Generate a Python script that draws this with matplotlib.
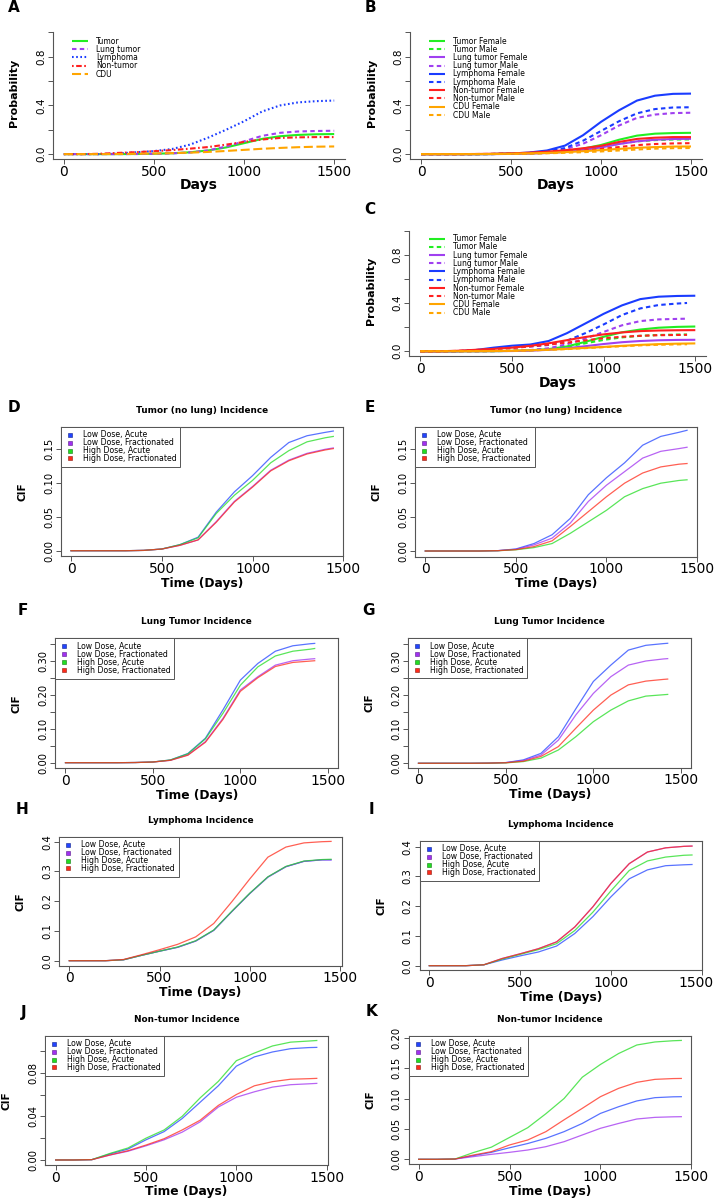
import matplotlib
matplotlib.use("Agg")
import matplotlib.pyplot as plt
import matplotlib.transforms as mtransforms
from matplotlib.lines import Line2D

plt.rcParams['font.family'] = ['DejaVu Sans']
plt.rcParams['lines.scale_dashes'] = False

W, H = 714, 1199

# ---------------- data ----------------
days_abc = [0, 100, 200, 300, 400, 500, 600, 700, 800, 900, 1000, 1100, 1200, 1300, 1400, 1500]
days_c_male = [0, 100, 200, 300, 400, 500, 600, 700, 800, 900, 1000, 1100, 1200, 1300, 1400, 1455]
days_de = [0, 100, 200, 300, 400, 500, 600, 700, 800, 900, 1000, 1100, 1200, 1300, 1400, 1445]
days_fg = [0, 100, 200, 300, 400, 500, 600, 700, 800, 900, 1000, 1100, 1200, 1300, 1400, 1425]
days_h = [0, 100, 200, 300, 400, 500, 600, 700, 800, 900, 1000, 1100, 1200, 1300, 1400, 1450]
days_ijk = [0, 100, 200, 300, 400, 500, 600, 700, 800, 900, 1000, 1100, 1200, 1300, 1400, 1445]

# Panel A
a_tumor = [0, 0, 0, 0, 0.001, 0.003, 0.007, 0.015, 0.03, 0.055, 0.09, 0.125, 0.147, 0.158, 0.163, 0.165]
a_lung = [0, 0, 0, 0, 0.001, 0.003, 0.006, 0.014, 0.03, 0.062, 0.105, 0.15, 0.175, 0.186, 0.19, 0.192]
a_lymph = [0, 0, 0, 0.005, 0.015, 0.025, 0.042, 0.078, 0.135, 0.2, 0.27, 0.35, 0.4, 0.425, 0.435, 0.44]
a_nontumor = [0, 0, 0.003, 0.01, 0.016, 0.024, 0.033, 0.045, 0.058, 0.078, 0.1, 0.12, 0.133, 0.138, 0.14, 0.14]
a_cdu = [0, 0, 0, 0.001, 0.003, 0.005, 0.008, 0.012, 0.018, 0.026, 0.035, 0.044, 0.051, 0.057, 0.061, 0.063]

# Panel B
b_tumor_f = [0, 0, 0, 0, 0.001, 0.003, 0.007, 0.014, 0.025, 0.045, 0.075, 0.118, 0.152, 0.168, 0.173, 0.175]
b_tumor_m = [0, 0, 0, 0, 0.001, 0.002, 0.005, 0.01, 0.02, 0.035, 0.058, 0.085, 0.105, 0.115, 0.12, 0.121]
b_lung_f = [0, 0, 0, 0, 0, 0.002, 0.004, 0.009, 0.018, 0.033, 0.055, 0.083, 0.105, 0.118, 0.124, 0.126]
b_lung_m = [0, 0, 0, 0, 0.001, 0.003, 0.007, 0.016, 0.04, 0.085, 0.155, 0.235, 0.298, 0.325, 0.337, 0.34]
b_lymph_f = [0, 0, 0, 0, 0.001, 0.005, 0.013, 0.03, 0.07, 0.155, 0.265, 0.36, 0.44, 0.48, 0.495, 0.497]
b_lymph_m = [0, 0, 0, 0, 0.001, 0.004, 0.01, 0.022, 0.05, 0.11, 0.19, 0.27, 0.335, 0.37, 0.383, 0.385]
b_non_f = [0, 0, 0, 0.001, 0.003, 0.006, 0.012, 0.02, 0.032, 0.048, 0.068, 0.1, 0.125, 0.135, 0.14, 0.14]
b_non_m = [0, 0, 0, 0.001, 0.002, 0.004, 0.008, 0.013, 0.02, 0.03, 0.042, 0.058, 0.074, 0.083, 0.088, 0.09]
b_cdu_f = [0, 0, 0, 0, 0.001, 0.003, 0.006, 0.01, 0.016, 0.024, 0.033, 0.043, 0.052, 0.058, 0.062, 0.063]
b_cdu_m = [0, 0, 0, 0, 0.001, 0.002, 0.004, 0.007, 0.011, 0.016, 0.022, 0.03, 0.038, 0.045, 0.049, 0.05]

# Panel C
c_tumor_f = [0, 0, 0, 0, 0.001, 0.003, 0.008, 0.018, 0.04, 0.078, 0.12, 0.157, 0.18, 0.195, 0.202, 0.205]
c_tumor_m = [0, 0, 0, 0, 0.001, 0.003, 0.008, 0.018, 0.038, 0.066, 0.094, 0.115, 0.128, 0.135, 0.138, 0.139]
c_lung_f = [0, 0, 0, 0, 0.001, 0.002, 0.005, 0.012, 0.025, 0.042, 0.06, 0.075, 0.085, 0.091, 0.094, 0.095]
c_lung_m = [0, 0, 0, 0, 0.002, 0.005, 0.01, 0.025, 0.058, 0.105, 0.16, 0.215, 0.25, 0.264, 0.268, 0.27]
c_lymph_f = [0, 0, 0, 0.01, 0.03, 0.046, 0.056, 0.085, 0.15, 0.23, 0.31, 0.38, 0.432, 0.452, 0.458, 0.46]
c_lymph_m = [0, 0, 0, 0.008, 0.02, 0.03, 0.04, 0.052, 0.088, 0.15, 0.222, 0.3, 0.355, 0.383, 0.395, 0.4]
c_non_f = [0, 0, 0.004, 0.012, 0.02, 0.03, 0.045, 0.066, 0.092, 0.118, 0.14, 0.156, 0.167, 0.172, 0.174, 0.175]
c_non_m = [0, 0, 0.003, 0.01, 0.018, 0.027, 0.04, 0.055, 0.072, 0.09, 0.108, 0.12, 0.128, 0.133, 0.135, 0.136]
c_cdu_f = [0, 0, 0, 0.001, 0.002, 0.004, 0.008, 0.013, 0.02, 0.028, 0.036, 0.045, 0.053, 0.059, 0.063, 0.065]
c_cdu_m = [0, 0, 0, 0.001, 0.002, 0.004, 0.007, 0.012, 0.018, 0.026, 0.034, 0.042, 0.049, 0.054, 0.057, 0.058]

# Panels D-K: Low Dose Acute, Low Dose Fractionated, High Dose Acute, High Dose Fractionated
d_low_acute = [0, 0, 0, 0, 0.0005, 0.0025, 0.009, 0.02, 0.057, 0.087, 0.111, 0.138, 0.16, 0.17, 0.175, 0.177]
d_low_frac = [0, 0, 0, 0, 0.0005, 0.0025, 0.008, 0.016, 0.043, 0.073, 0.095, 0.119, 0.134, 0.144, 0.15, 0.152]
d_high_acute = [0, 0, 0, 0, 0.0005, 0.0025, 0.009, 0.019, 0.055, 0.082, 0.104, 0.13, 0.148, 0.161, 0.167, 0.169]
d_high_frac = [0, 0, 0, 0, 0.0005, 0.0025, 0.008, 0.016, 0.042, 0.072, 0.094, 0.118, 0.133, 0.143, 0.149, 0.151]

e_low_acute = [0, 0, 0, 0, 0.0005, 0.003, 0.011, 0.024, 0.048, 0.083, 0.108, 0.13, 0.156, 0.169, 0.175, 0.178]
e_low_frac = [0, 0, 0, 0, 0.0005, 0.0025, 0.009, 0.019, 0.041, 0.073, 0.097, 0.117, 0.137, 0.147, 0.151, 0.153]
e_high_acute = [0, 0, 0, 0, 0.0004, 0.0018, 0.005, 0.011, 0.026, 0.043, 0.06, 0.08, 0.092, 0.1, 0.104, 0.105]
e_high_frac = [0, 0, 0, 0, 0.0005, 0.002, 0.0065, 0.015, 0.036, 0.058, 0.08, 0.1, 0.115, 0.124, 0.128, 0.129]

f_low_acute = [0, 0, 0, 0, 0.0005, 0.002, 0.008, 0.027, 0.072, 0.155, 0.243, 0.292, 0.328, 0.344, 0.35, 0.351]
f_low_frac = [0, 0, 0, 0, 0.0005, 0.002, 0.007, 0.023, 0.062, 0.13, 0.214, 0.253, 0.287, 0.3, 0.305, 0.306]
f_high_acute = [0, 0, 0, 0, 0.0005, 0.002, 0.008, 0.026, 0.07, 0.145, 0.228, 0.282, 0.314, 0.328, 0.334, 0.336]
f_high_frac = [0, 0, 0, 0, 0.0005, 0.002, 0.007, 0.022, 0.06, 0.127, 0.21, 0.25, 0.283, 0.295, 0.299, 0.3]

g_low_acute = [0, 0, 0, 0, 0.0005, 0.002, 0.01, 0.029, 0.078, 0.16, 0.24, 0.288, 0.332, 0.346, 0.351, 0.352]
g_low_frac = [0, 0, 0, 0, 0.0005, 0.002, 0.008, 0.024, 0.068, 0.142, 0.205, 0.254, 0.288, 0.3, 0.306, 0.307]
g_high_acute = [0, 0, 0, 0, 0.0003, 0.0012, 0.005, 0.015, 0.039, 0.078, 0.122, 0.156, 0.183, 0.197, 0.201, 0.202]
g_high_frac = [0, 0, 0, 0, 0.0004, 0.0015, 0.006, 0.02, 0.049, 0.103, 0.156, 0.2, 0.23, 0.241, 0.246, 0.247]

h_low_acute = [0, 0, 0, 0.003, 0.018, 0.032, 0.045, 0.066, 0.102, 0.165, 0.226, 0.281, 0.316, 0.334, 0.339, 0.339]
h_low_frac = [0, 0, 0, 0.003, 0.018, 0.032, 0.045, 0.066, 0.102, 0.165, 0.226, 0.281, 0.316, 0.334, 0.339, 0.339]
h_high_acute = [0, 0, 0, 0.003, 0.018, 0.032, 0.046, 0.067, 0.103, 0.166, 0.227, 0.282, 0.317, 0.335, 0.34, 0.341]
h_high_frac = [0, 0, 0, 0.004, 0.02, 0.037, 0.055, 0.08, 0.125, 0.198, 0.275, 0.348, 0.382, 0.396, 0.4, 0.401]

i_low_acute = [0, 0, 0, 0.003, 0.019, 0.033, 0.046, 0.066, 0.108, 0.165, 0.232, 0.292, 0.322, 0.336, 0.339, 0.34]
i_low_frac = [0, 0, 0, 0.003, 0.024, 0.04, 0.057, 0.08, 0.13, 0.198, 0.277, 0.343, 0.382, 0.396, 0.401, 0.402]
i_high_acute = [0, 0, 0, 0.003, 0.022, 0.038, 0.054, 0.074, 0.118, 0.18, 0.252, 0.32, 0.352, 0.365, 0.371, 0.372]
i_high_frac = [0, 0, 0, 0.003, 0.024, 0.04, 0.057, 0.08, 0.13, 0.198, 0.277, 0.343, 0.382, 0.396, 0.401, 0.402]

j_low_acute = [0, 0, 0.0003, 0.0055, 0.01, 0.0185, 0.026, 0.038, 0.053, 0.068, 0.086, 0.0945, 0.099, 0.102, 0.103, 0.1032]
j_low_frac = [0, 0, 0.0003, 0.0045, 0.008, 0.013, 0.0185, 0.0255, 0.035, 0.0485, 0.0575, 0.0625, 0.0668, 0.069, 0.0698, 0.0702]
j_high_acute = [0, 0, 0.0003, 0.006, 0.011, 0.02, 0.0275, 0.04, 0.057, 0.072, 0.091, 0.098, 0.1045, 0.108, 0.109, 0.1095]
j_high_frac = [0, 0, 0.0003, 0.0046, 0.0085, 0.0137, 0.0195, 0.0275, 0.0365, 0.05, 0.06, 0.068, 0.0718, 0.074, 0.0745, 0.0748]

k_low_acute = [0, 0, 0.0005, 0.006, 0.0115, 0.019, 0.026, 0.0345, 0.0455, 0.059, 0.0755, 0.0865, 0.096, 0.1014, 0.1028, 0.103]
k_low_frac = [0, 0, 0.0005, 0.0044, 0.0082, 0.0115, 0.0153, 0.0208, 0.029, 0.04, 0.051, 0.059, 0.0663, 0.069, 0.0699, 0.0701]
k_high_acute = [0, 0, 0.0005, 0.011, 0.02, 0.036, 0.052, 0.075, 0.1, 0.135, 0.156, 0.174, 0.188, 0.193, 0.195, 0.1955]
k_high_frac = [0, 0, 0.0005, 0.007, 0.0126, 0.0236, 0.0318, 0.0455, 0.065, 0.0838, 0.103, 0.1167, 0.1266, 0.1315, 0.1328, 0.133]

group_labels = ["Low Dose, Acute", "Low Dose, Fractionated", "High Dose, Acute", "High Dose, Fractionated"]
abc_labels_a = ["Tumor", "Lung tumor", "Lymphoma", "Non-tumor", "CDU"]
abc_labels_sex = ["Tumor Female", "Tumor Male", "Lung tumor Female", "Lung tumor Male",
                  "Lymphoma Female", "Lymphoma Male", "Non-tumor Female", "Non-tumor Male",
                  "CDU Female", "CDU Male"]

# ---------------- styles ----------------
GREEN = "#22EE22"
PURPLE = "#A040F0"
BLUE = "#1A3CFF"
RED = "#FF2020"
ORANGE = "#FFA500"
cif_colors = ["#2244FF", "#A030F0", "#22DD22", "#FF2A1A"]
cif_edges = ["#10208A", "#5A1A8A", "#127A12", "#8A1A10"]
GRAYAX = "#555555"

fig = plt.figure(figsize=(W / 100, H / 100), dpi=100)


def px_axes(l, t, r, b):
    return fig.add_axes([l / W, 1 - b / H, (r - l) / W, (b - t) / H])


def ftext(x, y, s, **kw):
    kw.setdefault("ha", "center")
    kw.setdefault("va", "center")
    fig.text(x / W, 1 - y / H, s, **kw)


def prob_axes(l, t, r, b):
    ax = px_axes(l, t, r, b)
    ax.set_xlim(-60, 1560)
    ax.set_ylim(-0.04, 1.04)
    for s in ["top", "right"]:
        ax.spines[s].set_visible(False)
    for s in ["left", "bottom"]:
        ax.spines[s].set_color(GRAYAX)
        ax.spines[s].set_linewidth(0.8)
    ax.spines["left"].set_bounds(-0.04, 1.0)
    ax.set_xticks([0, 500, 1000, 1500])
    ax.set_yticks([0, 0.2, 0.4, 0.6, 0.8, 1.0])
    ax.set_yticklabels(["0.0", "", "0.4", "", "0.8", ""], rotation=90, va="center")
    ax.tick_params(axis="both", direction="out", length=3.6, width=0.7, color=GRAYAX)
    ax.tick_params(axis="x", labelsize=10, pad=0.5)
    ax.tick_params(axis="y", labelsize=7.5, pad=1.5)
    return ax


LS_SOLID = (0, ())
LS_DASH = (0, (3.2, 2.4))
LS_DOT = (0, (1.2, 1.8))
LS_DASHDOT = (0, (1.2, 1.8, 4.0, 1.8))
LS_LONG = (0, (6.5, 2.6))

# ---------------- Panel A ----------------
axA = prob_axes(53, 27.5, 345, 159)
a_series = [a_tumor, a_lung, a_lymph, a_nontumor, a_cdu]
a_styles = [(GREEN, LS_SOLID), (PURPLE, LS_DASH), (BLUE, LS_DOT), (RED, LS_DASHDOT), (ORANGE, LS_LONG)]
for vals, (c, ls), lab in zip(a_series, a_styles, abc_labels_a):
    axA.plot(days_abc, vals, color=c, linestyle=ls, lw=1.5, label=lab)
axA.legend(loc="upper left", bbox_to_anchor=(72 / W, 1 - 36.5 / H), bbox_transform=fig.transFigure,
           frameon=False, fontsize=5.5, borderpad=0, borderaxespad=0, labelspacing=-0.09,
           handlelength=2.1, handletextpad=1.05)

# ---------------- Panel B ----------------
axB = prob_axes(410.2, 27.5, 701.8, 159)
b_series = [b_tumor_f, b_tumor_m, b_lung_f, b_lung_m, b_lymph_f, b_lymph_m, b_non_f, b_non_m, b_cdu_f, b_cdu_m]
sex_colors = [GREEN, GREEN, PURPLE, PURPLE, BLUE, BLUE, RED, RED, ORANGE, ORANGE]
sex_ls = [LS_SOLID, LS_DASH] * 5
for vals, c, ls, lab in zip(b_series, sex_colors, sex_ls, abc_labels_sex):
    axB.plot(days_abc, vals, color=c, linestyle=ls, lw=1.5, label=lab)
axB.legend(loc="upper left", bbox_to_anchor=(428.7 / W, 1 - 36.5 / H), bbox_transform=fig.transFigure,
           frameon=False, fontsize=5.5, borderpad=0, borderaxespad=0, labelspacing=-0.1,
           handlelength=2.1, handletextpad=1.05)

# ---------------- Panel C ----------------
axC = prob_axes(409.3, 225.7, 706.3, 356.1)
c_series = [c_tumor_f, c_tumor_m, c_lung_f, c_lung_m, c_lymph_f, c_lymph_m, c_non_f, c_non_m, c_cdu_f, c_cdu_m]
for i, (vals, c, ls, lab) in enumerate(zip(c_series, sex_colors, sex_ls, abc_labels_sex)):
    dd = days_abc if i % 2 == 0 else days_c_male
    axC.plot(dd, vals, color=c, linestyle=ls, lw=1.5, label=lab)
axC.legend(loc="upper left", bbox_to_anchor=(428.7 / W, 1 - 234.2 / H), bbox_transform=fig.transFigure,
           frameon=False, fontsize=5.5, borderpad=0, borderaxespad=0, labelspacing=-0.1,
           handlelength=2.1, handletextpad=1.05)

for ax_, xc, yc, xl, yl in [(axA, 199, 93.3, 14.5, 185), (axB, 556, 93.3, 371.5, 185),
                            (axC, 558, 290.9, 371, 383)]:
    ftext(xc, yl, "Days", fontsize=10, fontweight="bold")
    ftext(xl, yc, "Probability", fontsize=8, fontweight="bold", rotation=90)

ftext(13.5, 8, "A", fontsize=11, fontweight="bold")
ftext(370, 8, "B", fontsize=11, fontweight="bold")
ftext(370, 210, "C", fontsize=11, fontweight="bold")


# ---------------- Panels D-K ----------------
def cif_panel(rect, xlim, ylim, yticks, ylabels, days, series, title, letter, letter_xy,
              shift_last_xlabel=0):
    l, t, r, b = rect
    ax = px_axes(l, t, r, b)
    for vals, c in zip(series, cif_colors):
        ax.plot(days, vals, color=c, lw=0.9, alpha=0.75)
    ax.set_xlim(*xlim)
    ax.set_ylim(*ylim)
    for s in ax.spines.values():
        s.set_color(GRAYAX)
        s.set_linewidth(0.8)
    ax.set_xticks([0, 500, 1000, 1500])
    ax.set_yticks(yticks)
    ax.set_yticklabels(ylabels, rotation=90, va="center")
    ax.tick_params(axis="both", direction="out", length=3.6, width=0.7, color=GRAYAX)
    ax.tick_params(axis="x", labelsize=10, pad=0.5)
    ax.tick_params(axis="y", labelsize=7.2, pad=1.5)
    if shift_last_xlabel:
        lab = ax.xaxis.get_major_ticks()[-1].label1
        lab.set_transform(lab.get_transform() +
                          mtransforms.ScaledTranslation(shift_last_xlabel / 100, 0, fig.dpi_scale_trans))
    handles = [Line2D([], [], marker="s", linestyle="none", markersize=3.2,
                      markerfacecolor=c, markeredgecolor=e, markeredgewidth=0.4)
               for c, e in zip(cif_colors, cif_edges)]
    leg = ax.legend(handles, group_labels, loc="upper left", bbox_to_anchor=(0, 1),
                    borderaxespad=0, fontsize=5.6, borderpad=0.48, labelspacing=-0.14,
                    handlelength=1.36, handletextpad=0.99, fancybox=False, framealpha=1)
    leg.get_frame().set_edgecolor(GRAYAX)
    leg.get_frame().set_linewidth(0.7)
    xc = (l + r) / 2
    yc = (t + b) / 2
    ftext(xc, t - 16.6, title, fontsize=6.4, fontweight="bold")
    ftext(xc, b + 27, "Time (Days)", fontsize=8.8, fontweight="bold")
    ftext(l - 38.5, yc, "CIF", fontsize=7.5, fontweight="bold", rotation=90)
    ftext(letter_xy[0], letter_xy[1], letter, fontsize=11, fontweight="bold")
    return ax


t5 = [0, 0.05, 0.10, 0.15]
cif_panel((61, 426.7, 343.3, 556), (-55.1, 1500), (-0.0078, 0.1834), t5,
          ["0.00", "0.05", "0.10", "0.15"], days_de,
          [d_low_acute, d_low_frac, d_high_acute, d_high_frac],
          "Tumor (no lung) Incidence", "D", (14, 407.5))
cif_panel((415.3, 426.7, 697, 556.7), (-55.2, 1500), (-0.0084, 0.1833), t5,
          ["0.00", "0.05", "0.10", "0.15"], days_de,
          [e_low_acute, e_low_frac, e_high_acute, e_high_frac],
          "Tumor (no lung) Incidence", "E", (369.7, 407))
t35 = [0, 0.05, 0.10, 0.15, 0.20, 0.25, 0.30, 0.35]
l35 = ["0.00", "", "0.10", "", "0.20", "", "0.30", ""]
cif_panel((55, 638.3, 338.3, 768.3), (-60, 1560), (-0.0165, 0.366), t35, l35, days_fg,
          [f_low_acute, f_low_frac, f_high_acute, f_high_frac],
          "Lung Tumor Incidence", "F", (22.5, 610.8))
cif_panel((408, 638.3, 691.3, 767.7), (-60, 1560), (-0.013, 0.3666), t35, l35, days_fg,
          [g_low_acute, g_low_frac, g_high_acute, g_high_frac],
          "Lung Tumor Incidence", "G", (368.7, 610.3))
t4 = [0, 0.1, 0.2, 0.3, 0.4]
l4 = ["0.0", "0.1", "0.2", "0.3", "0.4"]
cif_panel((59.3, 836.7, 341.7, 965.7), (-55.4, 1509), (-0.0168, 0.4168), t4, l4, days_h,
          [h_low_acute, h_low_frac, h_high_acute, h_high_frac],
          "Lymphoma Incidence", "H", (21.7, 809.7))
cif_panel((419.7, 840.7, 702, 970), (-52.8, 1500), (-0.0145, 0.42), t4, l4, days_ijk,
          [i_low_acute, i_low_frac, i_high_acute, i_high_frac],
          "Lymphoma Incidence", "I", (371.3, 809.7), shift_last_xlabel=-6)
cif_panel((45, 1035.7, 327.7, 1165), (-59.2, 1505.5), (-0.0046, 0.1139),
          [0, 0.02, 0.04, 0.06, 0.08, 0.10], ["0.00", "", "0.04", "", "0.08", ""], days_ijk,
          [j_low_acute, j_low_frac, j_high_acute, j_high_frac],
          "Non-tumor Incidence", "J", (23.3, 1012.7))
cif_panel((408.7, 1035.7, 691.3, 1164.3), (-55, 1500), (-0.0082, 0.2033),
          [0, 0.05, 0.10, 0.15, 0.20], ["0.00", "0.05", "0.10", "0.15", "0.20"], days_ijk,
          [k_low_acute, k_low_frac, k_high_acute, k_high_frac],
          "Non-tumor Incidence", "K", (371, 1012))

fig.savefig("out.png", dpi=100)
